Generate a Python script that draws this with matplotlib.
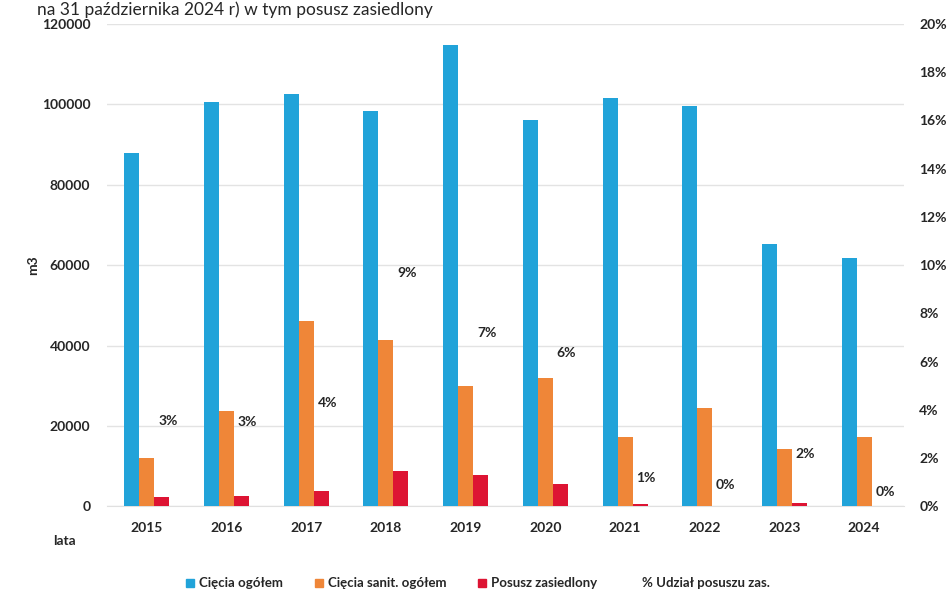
import numpy as np
import matplotlib.pyplot as plt
from matplotlib.patches import Patch
from matplotlib.lines import Line2D
from matplotlib.ticker import FuncFormatter

plt.rcParams['font.family'] = ['Lato', 'DejaVu Sans']

# dane
lata = ['2015', '2016', '2017', '2018', '2019', '2020', '2021', '2022', '2023', '2024']
ciecia_ogolem = [87800, 100600, 102700, 98300, 114700, 96200, 101700, 99700, 65200, 61800]
ciecia_sanit = [12100, 23700, 46100, 41400, 29900, 31900, 17200, 24600, 14200, 17200]
posusz_zas = [2400, 2650, 3800, 8900, 7700, 5600, 600, 200, 900, 0]
udzial_proc = [2.95, 2.9, 3.7, 9.1, 6.6, 5.8, 0.6, 0.3, 1.6, 0.0]

c_blue = '#21a3d9'
c_orange = '#ef8638'
c_red = '#dd1433'
txt_col = '#262626'

fig = plt.figure(figsize=(9.47, 5.99), dpi=100)
ax = fig.add_axes([0.113, 0.1545, 0.8416, 0.8055])
ax2 = ax.twinx()

x = np.arange(len(lata))
w = 0.188
ax.bar(x - w, ciecia_ogolem, w, color=c_blue, zorder=3)
ax.bar(x, ciecia_sanit, w, color=c_orange, zorder=3)
ax.bar(x + w, posusz_zas, w, color=c_red, zorder=3)

ax.set_xlim(-0.5, len(lata) - 0.5)
ax.set_ylim(0, 120000)
ax.set_yticks(np.arange(0, 120001, 20000))
ax.set_xticks(x)
ax.set_xticklabels(lata)
ax.yaxis.grid(True, color='#e3e3e3', linewidth=1, zorder=0)
for s in ['top', 'right', 'left']:
    ax.spines[s].set_visible(False)
ax.spines['bottom'].set_color('#e0e0e0')
ax.tick_params(axis='both', length=0, labelsize=10, labelcolor=txt_col)
ax.tick_params(axis='y', pad=12)
ax.tick_params(axis='x', pad=11)
for lab in ax.get_xticklabels() + ax.get_yticklabels():
    lab.set_fontweight('bold')

# % udział - tylko etykiety
ax2.plot(x, udzial_proc, linestyle='none')
ax2.set_ylim(0, 20)
ax2.set_yticks(np.arange(0, 21, 2))
ax2.yaxis.set_major_formatter(FuncFormatter(lambda v, p: '{:.0f}%'.format(v)))
ax2.tick_params(axis='y', length=0, labelsize=10, labelcolor=txt_col, pad=11)
for lab in ax2.get_yticklabels():
    lab.set_fontweight('bold')
for s in ax2.spines.values():
    s.set_visible(False)
for xi, v in zip(x, udzial_proc):
    ax2.annotate('{:.0f}%'.format(v), (xi, v), xytext=(21, 14), textcoords='offset pixels',
                 ha='center', va='center', fontsize=10, fontweight='bold', color=txt_col)

fig.text(0.035, 0.557, 'm3', rotation=90, ha='center', va='center',
         fontsize=10, fontweight='bold', color=txt_col)
fig.text(0.068, 0.097, 'lata', ha='center', va='center',
         fontsize=10, fontweight='bold', color=txt_col)

# tytuł u góry (w oryginale częściowo obcięty)
fig.text(0.039, 0.998, 'na 31 października 2024 r) w tym posusz zasiedlony',
         ha='left', va='top', fontsize=12.5, color=txt_col)

handles = [Patch(color=c_blue), Patch(color=c_orange), Patch(color=c_red),
           Line2D([], [], linestyle='none')]
labels = ['Cięcia ogółem', 'Cięcia sanit. ogółem', 'Posusz zasiedlony', '% Udział posuszu zas.']
fig.legend(handles, labels, loc='center', bbox_to_anchor=(0.505, 0.026), ncol=4, frameon=False,
           handlelength=0.6, handleheight=0.6, handletextpad=0.4,
           columnspacing=2.4, labelcolor=txt_col,
           prop={'size': 9.5, 'weight': 'bold'})

fig.savefig('out.png', dpi=100, facecolor='white')
